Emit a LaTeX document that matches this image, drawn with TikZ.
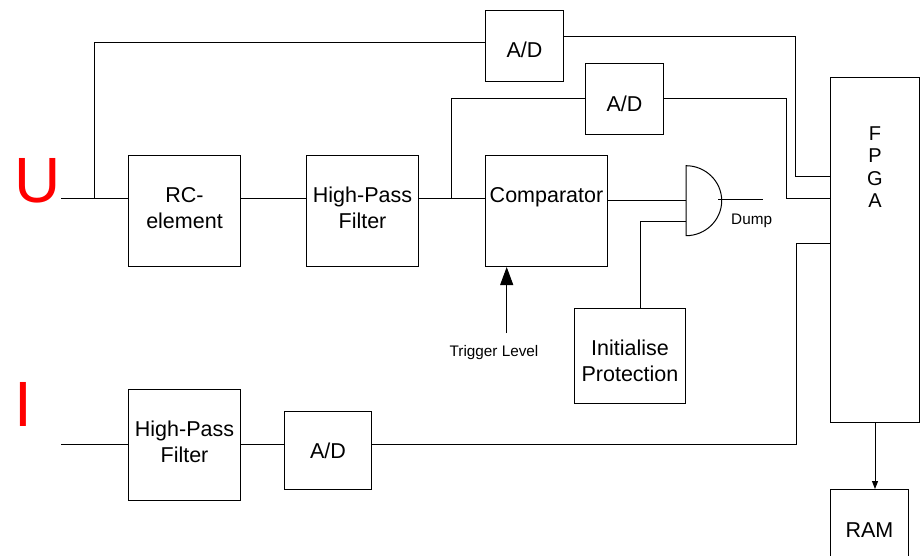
\documentclass[tikz,border=0pt]{standalone}
\usepackage{fontspec}
\setmainfont{Liberation Sans}
\usetikzlibrary{arrows.meta}
\tikzset{
 block/.style={draw=black,line width=1pt,rectangle,inner sep=0pt,align=center,font=\fontsize{21.5}{26}\selectfont,anchor=north west},
 wire/.style={draw=black,line width=1pt},
 small/.style={inner sep=0pt,font=\fontsize{15.3}{17}\selectfont},
 big/.style={inner sep=0pt,text=red,font=\fontsize{64}{64}\selectfont},
}
\newcommand{\lift}[2]{\makebox[40pt]{\smash{\raisebox{#1pt}{\parbox{130pt}{\centering #2}}}}}
\begin{document}
\begin{tikzpicture}[x=1pt,y=-1pt]
\useasboundingbox (0,0) rectangle (924,556);
\clip (0,0) rectangle (924,556);
\node[block,minimum width=78pt,minimum height=71pt] (ad1) at (485,10) {\lift{-9}{A/D}};
\node[block,minimum width=78pt,minimum height=71pt] (ad2) at (585,63) {\lift{-10}{A/D}};
\node[block,minimum width=112pt,minimum height=111pt] (rc) at (128,155) {\lift{-2}{RC-\\element}};
\node[block,minimum width=112pt,minimum height=111pt] (hp) at (306,155) {\lift{-2}{High-Pass\\Filter}};
\node[block,minimum width=122pt,minimum height=111pt] (cmp) at (485,155) {\lift{9}{Comparator}};
\node[block,minimum width=111pt,minimum height=95pt] (init) at (574,308) {\lift{-10}{Initialise\\Protection}};
\node[block,minimum width=112pt,minimum height=111pt] (hp2) at (128,389) {\lift{-2}{High-Pass\\Filter}};
\node[block,minimum width=87pt,minimum height=78pt] (ad3) at (284,411) {\lift{-5}{A/D}};
\node[block,minimum width=89pt,minimum height=345pt,font=\fontsize{20}{22.5}\selectfont] (fpga) at (830,77) {\lift{77.5}{F\\P\\G\\A}};
\node[block,minimum width=78pt,minimum height=82pt] (ram) at (830,489) {\lift{-5}{RAM}};
% AND gate
\coordinate (andw) at (686,200.7);
\draw[wire,fill=white] (686,165.7) .. controls (705.6,165.7) and (721.7,181.4) .. (721.7,200.7) .. controls (721.7,220) and (705.6,235.7) .. (686,235.7) -- cycle;
\node[big] (u) at (38,181) {U};
\node[big] (i) at (23,404) {I};
\node[small,anchor=west] (dump) at (731,221) {Dump};
\node[small] (trig) at (494,353) {Trigger Level};
\coordinate (us) at (61,199);
\coordinate (ub) at (94,199);
\coordinate (is) at (61,444);
\coordinate (hb) at (451,199);
\coordinate (dumpa) at (718,199.3);
\coordinate (dumpb) at (763,199.3);
\coordinate (and2) at (686,221.7);
\coordinate (tb) at (506.7,333);
\draw[wire] (us) -- (us -| rc.west);
\draw[wire] (ub) |- (ad1.west |- 0,43);
\draw[wire] (rc.east |- us) -- (hp.west |- us);
\draw[wire] (hp.east |- us) -- (cmp.west |- us);
\draw[wire] (hb) |- (ad2.west);
\draw[wire] (ad1.east |- 0,37) -| (795,177) -- (fpga.west |- 0,177);
\draw[wire] (ad2.east) -| (786,199) -- (fpga.west |- 0,199);
\draw[wire] (cmp.east |- andw) -- (andw);
\draw[wire] (init.north -| 640,0) |- (and2);
\draw[wire] (dumpa) -- (dumpb);
\draw[wire] (is) -- (hp2.west |- is);
\draw[wire] (hp2.east |- is) -- (ad3.west |- is);
\draw[wire] (ad3.east |- is) -| (796,244) -- (fpga.west |- 0,244);
\draw[wire,-{Triangle[length=18pt,width=13pt]}] (tb) -- (tb |- cmp.south);
\draw[wire,-{Triangle[length=8pt,width=6pt]}] (fpga.south) -- (fpga.south |- ram.north);
\end{tikzpicture}
\end{document}
